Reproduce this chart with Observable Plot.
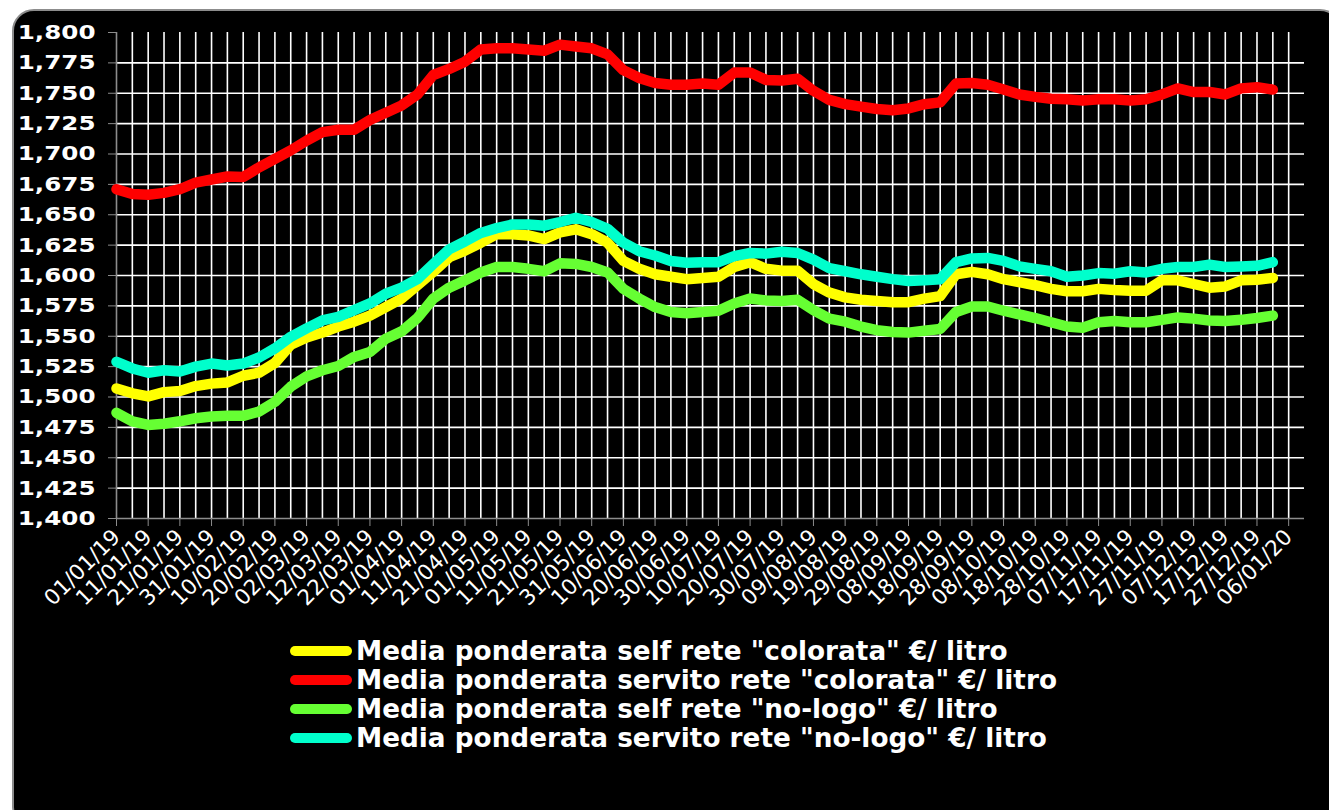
<!DOCTYPE html>
<html><head><meta charset="utf-8">
<script src="https://cdn.jsdelivr.net/npm/d3@7"></script>
<script src="https://cdn.jsdelivr.net/npm/@observablehq/plot@0.6"></script>
<style>
html,body{margin:0;padding:0;background:#fff;width:1329px;height:810px;overflow:hidden;font-family:"DejaVu Sans",sans-serif}
#panel{position:absolute;left:12px;top:9px;width:1330px;height:820px;background:#000;border:2px solid #8c8c8c;border-radius:22px;box-sizing:border-box}
#chart{position:absolute;left:0;top:0}
#legend{position:absolute;left:290px;top:636px;color:#fff;font-family:"DejaVu Sans";font-weight:bold;font-size:26.3px}
.row{height:29px;display:flex;align-items:center;white-space:nowrap}
.sw{width:62px;height:10px;border-radius:5px;margin-right:4px;flex:none}
</style></head><body>
<div id="panel"></div><div id="chart"></div><div id="legend"></div>
<script>
const seriesNames = [
  'Media ponderata self rete "colorata" €/ litro',
  'Media ponderata servito rete "colorata" €/ litro',
  'Media ponderata self rete "no-logo" €/ litro',
  'Media ponderata servito rete "no-logo" €/ litro'
];
const seriesColors = ["#ffff00", "#ff0000", "#66ff33", "#00ffcc"];

const dates = [
  "2019-01-01","2019-01-06","2019-01-11","2019-01-16","2019-01-21","2019-01-26","2019-01-31","2019-02-05","2019-02-10","2019-02-15",
  "2019-02-20","2019-02-25","2019-03-02","2019-03-07","2019-03-12","2019-03-17","2019-03-22","2019-03-27","2019-04-01","2019-04-06",
  "2019-04-11","2019-04-16","2019-04-21","2019-04-26","2019-05-01","2019-05-06","2019-05-11","2019-05-16","2019-05-21","2019-05-26",
  "2019-05-31","2019-06-05","2019-06-10","2019-06-15","2019-06-20","2019-06-25","2019-06-30","2019-07-05","2019-07-10","2019-07-15",
  "2019-07-20","2019-07-25","2019-07-30","2019-08-04","2019-08-09","2019-08-14","2019-08-19","2019-08-24","2019-08-29","2019-09-03",
  "2019-09-08","2019-09-13","2019-09-18","2019-09-23","2019-09-28","2019-10-03","2019-10-08","2019-10-13","2019-10-18","2019-10-23",
  "2019-10-28","2019-11-02","2019-11-07","2019-11-12","2019-11-17","2019-11-22","2019-11-27","2019-12-02","2019-12-07","2019-12-12",
  "2019-12-17","2019-12-22","2019-12-27","2020-01-01"
];

const selfColorata = [
  1.507,1.503,1.5005,1.504,1.505,1.509,1.511,1.512,1.5175,1.520,
  1.528,1.543,1.549,1.553,1.558,1.562,1.567,1.574,1.581,1.592,
  1.603,1.615,1.6205,1.627,1.634,1.634,1.633,1.630,1.6355,1.638,
  1.634,1.627,1.612,1.6055,1.601,1.599,1.597,1.598,1.599,1.607,
  1.611,1.6055,1.604,1.604,1.593,1.586,1.582,1.580,1.579,1.578,
  1.578,1.581,1.583,1.601,1.603,1.601,1.597,1.5945,1.592,1.589,
  1.587,1.587,1.589,1.588,1.5875,1.5875,1.596,1.596,1.593,1.590,
  1.591,1.596,1.5965,1.598
];
const servitoColorata = [
  1.671,1.667,1.6665,1.668,1.671,1.6765,1.679,1.6815,1.681,1.689,
  1.696,1.703,1.711,1.718,1.720,1.720,1.728,1.734,1.740,1.749,
  1.765,1.770,1.776,1.786,1.787,1.787,1.786,1.785,1.790,1.7885,
  1.787,1.782,1.769,1.7625,1.7585,1.757,1.757,1.758,1.757,1.767,
  1.767,1.761,1.7605,1.762,1.752,1.7445,1.741,1.739,1.737,1.736,
  1.7375,1.741,1.7425,1.758,1.7585,1.757,1.753,1.749,1.747,1.7455,
  1.745,1.744,1.745,1.745,1.744,1.745,1.749,1.754,1.751,1.751,
  1.749,1.754,1.755,1.753
];
const selfNoLogo = [
  1.487,1.480,1.477,1.478,1.480,1.4825,1.484,1.4845,1.4845,1.488,
  1.496,1.5085,1.517,1.522,1.5255,1.533,1.537,1.548,1.554,1.565,
  1.581,1.590,1.596,1.6025,1.607,1.607,1.6055,1.6035,1.610,1.6095,
  1.607,1.6025,1.589,1.581,1.574,1.570,1.569,1.570,1.571,1.577,
  1.581,1.5795,1.579,1.580,1.5715,1.5645,1.562,1.558,1.555,1.5535,
  1.553,1.5545,1.556,1.570,1.5745,1.5745,1.571,1.568,1.565,1.5615,
  1.558,1.557,1.5615,1.5625,1.5615,1.5615,1.5635,1.5655,1.5645,1.563,
  1.5625,1.5635,1.565,1.567
];
const servitoNoLogo = [
  1.529,1.5235,1.520,1.522,1.521,1.525,1.5275,1.526,1.5275,1.5325,
  1.540,1.5495,1.5565,1.563,1.566,1.5715,1.577,1.585,1.590,1.597,
  1.6095,1.6215,1.628,1.635,1.639,1.642,1.642,1.641,1.644,1.6475,
  1.644,1.6385,1.627,1.620,1.6165,1.612,1.6105,1.611,1.611,1.616,
  1.6185,1.618,1.6195,1.6185,1.613,1.606,1.6035,1.601,1.599,1.597,
  1.5955,1.596,1.597,1.611,1.614,1.6145,1.612,1.6075,1.6055,1.6035,
  1.599,1.600,1.602,1.6015,1.6035,1.6025,1.6055,1.607,1.607,1.609,
  1.607,1.6075,1.608,1.611
];

const xTickLabels = [
  "01/01/19","11/01/19","21/01/19","31/01/19","10/02/19","20/02/19","02/03/19","12/03/19","22/03/19","01/04/19",
  "11/04/19","21/04/19","01/05/19","11/05/19","21/05/19","31/05/19","10/06/19","20/06/19","30/06/19","10/07/19",
  "20/07/19","30/07/19","09/08/19","19/08/19","29/08/19","08/09/19","18/09/19","28/09/19","08/10/19","18/10/19",
  "28/10/19","07/11/19","17/11/19","27/11/19","07/12/19","17/12/19","27/12/19","06/01/20"
];
const yTickValues = [1.400,1.425,1.450,1.475,1.500,1.525,1.550,1.575,1.600,1.625,1.650,1.675,1.700,1.725,1.750,1.775,1.800];

const allSeries = [selfColorata, servitoColorata, selfNoLogo, servitoNoLogo];
const parseISO = d3.utcParse("%Y-%m-%d");
const parseTick = d3.utcParse("%d/%m/%y");
const data = [];
allSeries.forEach((vals, s) => dates.forEach((d, i) => data.push({date: parseISO(d), value: vals[i], series: seriesNames[s]})));

const xStart = parseISO("2019-01-01");
const xEnd = parseISO("2020-01-11");
const xTicks = xTickLabels.map(parseTick);
const xGrid = d3.utcDay.range(parseISO("2019-01-06"), parseISO("2020-01-07"), 5);
const yGrid = yTickValues.filter(v => v > 1.41 && v < 1.79);
const fmtY = v => d3.format(".3f")(v).replace(".", ",");

const chart = Plot.plot({
  width: 1329, height: 620,
  marginLeft: 116, marginRight: 25, marginTop: 32, marginBottom: 102,
  style: {background: "transparent", color: "#fff", overflow: "visible", fontFamily: "DejaVu Sans"},
  x: {type: "utc", domain: [xStart, xEnd]},
  y: {domain: [1.4, 1.8]},
  color: {domain: seriesNames, range: seriesColors},
  marks: [
    Plot.ruleY(yGrid, {stroke: "#fff", strokeWidth: 1.6}),
    Plot.ruleX(xGrid, {stroke: "#fff", strokeWidth: 1.6, y1: 1.4, y2: 1.8}),
    Plot.ruleX([xStart], {stroke: "#8c8c8c", strokeWidth: 1.6, y1: 1.4, y2: 1.8}),
    Plot.ruleY([1.4], {stroke: "#8c8c8c", strokeWidth: 1.6}),
    Plot.axisY({ticks: yTickValues, tickFormat: fmtY, tickSize: 8, tickPadding: 13, stroke: "#8c8c8c", fill: "#fff",
      fontSize: 20, fontWeight: "bold", label: null}),
    Plot.axisX({ticks: xTicks, tickFormat: d3.utcFormat("%d/%m/%y"), tickSize: 8, tickPadding: 7, tickRotate: -45,
      stroke: "#8c8c8c", fill: "#fff", fontSize: 21.5, label: null}),
    Plot.lineY(data, {x: "date", y: "value", z: "series", stroke: "series", strokeWidth: 10.5,
      strokeLinejoin: "round", strokeLinecap: "round"})
  ]
});
document.getElementById("chart").appendChild(chart);

// widen the bold y tick labels as in the original
chart.querySelectorAll('g[aria-label="y-axis tick label"] text').forEach(t => {
  const tr = t.getAttribute("transform") || "";
  t.setAttribute("transform", tr + " scale(1.23,1)");
});

const legend = document.getElementById("legend");
seriesNames.forEach((name, i) => {
  const row = document.createElement("div");
  row.className = "row";
  const sw = document.createElement("div");
  sw.className = "sw";
  sw.style.background = seriesColors[i];
  const tx = document.createElement("span");
  tx.textContent = name;
  row.appendChild(sw); row.appendChild(tx);
  legend.appendChild(row);
});
</script></body></html>
